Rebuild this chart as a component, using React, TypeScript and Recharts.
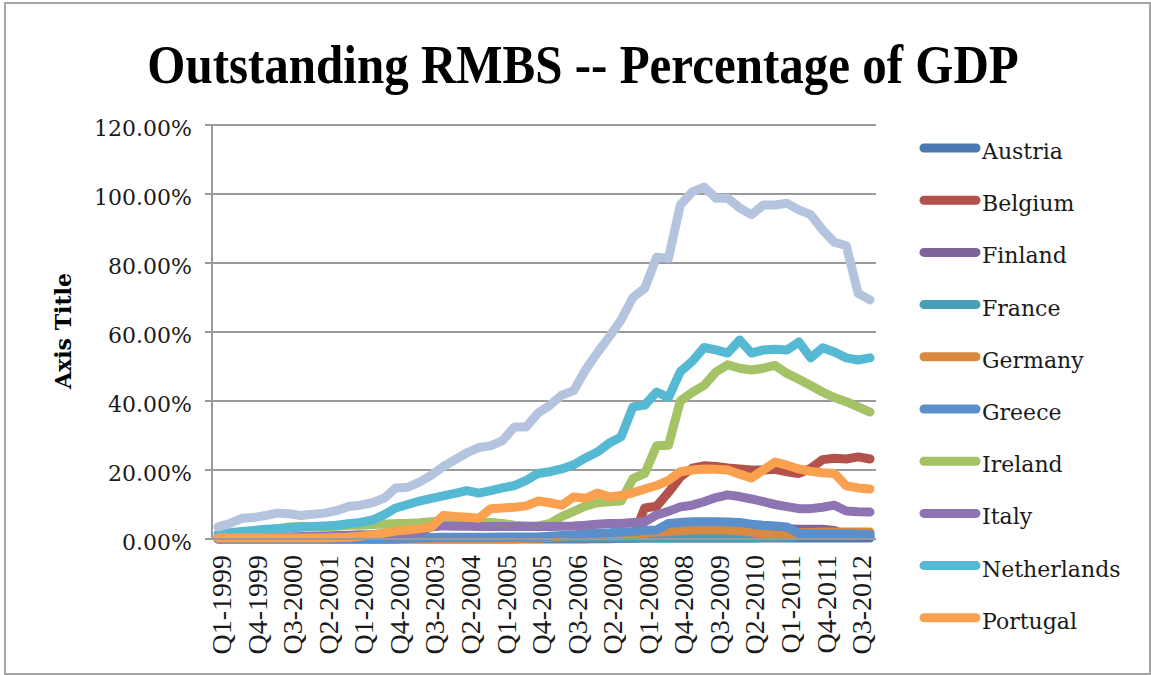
import { CartesianGrid, Line, LineChart, XAxis, YAxis } from 'recharts';

// quarters Q1-1999 .. Q4-2012
const YEARS = [1999, 2000, 2001, 2002, 2003, 2004, 2005, 2006, 2007, 2008, 2009, 2010, 2011, 2012];
const QUARTERS = ['Q1', 'Q2', 'Q3', 'Q4'];
const CATEGORIES = YEARS.flatMap((y) => QUARTERS.map((q) => `${q}-${y}`));

const Y_TICKS = [0, 20, 40, 60, 80, 100, 120];

// outstanding RMBS, % of GDP
const AUSTRIA = [
  0.1, 0.1, 0.1, 0.1, 0.1, 0.1, 0.1, 0.1,
  0.1, 0.1, 0.1, 0.1, 0.1, 0.1, 0.1, 0.1,
  0.2, 0.2, 0.2, 0.2, 0.2, 0.2, 0.2, 0.2,
  0.2, 0.2, 0.2, 0.2, 0.2, 0.2, 0.2, 0.2,
  0.3, 0.3, 0.3, 0.3, 0.3, 0.3, 0.3, 0.3,
  0.3, 0.3, 0.3, 0.3, 0.3, 0.3, 0.3, 0.3,
  0.3, 0.3, 0.3, 0.3, 0.3, 0.3, 0.3, 0.3,
];
const BELGIUM = [
  0.1, 0.1, 0.1, 0.1, 0.1, 0.1, 0.1, 0.1,
  0.1, 0.1, 0.1, 0.1, 0.1, 0.1, 0.1, 0.1,
  0.1, 0.1, 0.1, 0.1, 0.1, 0.1, 0.1, 0.1,
  0.1, 0.1, 0.1, 0.1, 0.1, 0.1, 0.1, 0.1,
  0.1, 0.1, 0.2, 0.3, 9.0, 9.5, 13.5, 18.0,
  20.5, 21.2, 21.0, 20.6, 20.3, 20.0, 20.0, 20.2,
  19.5, 19.0, 20.5, 23.0, 23.4, 23.2, 23.8, 23.2,
];
const FINLAND = [
  0.1, 0.1, 0.1, 0.1, 0.1, 0.1, 0.1, 0.1,
  0.1, 0.1, 0.1, 0.1, 0.1, 0.1, 0.1, 0.1,
  0.1, 0.1, 0.1, 0.1, 0.1, 0.1, 0.1, 0.1,
  0.1, 0.1, 0.1, 0.1, 0.1, 0.1, 0.1, 0.1,
  0.2, 0.2, 0.3, 0.3, 0.5, 2.0, 3.0, 3.3,
  3.5, 3.5, 3.5, 3.5, 3.3, 3.2, 3.0, 3.0,
  3.0, 2.8, 2.8, 2.8, 2.5, 1.0, 0.8, 0.8,
];
const FRANCE = [
  0.2, 0.2, 0.2, 0.2, 0.2, 0.2, 0.2, 0.2,
  0.2, 0.2, 0.2, 0.2, 0.2, 0.2, 0.2, 0.2,
  0.2, 0.2, 0.2, 0.2, 0.2, 0.2, 0.2, 0.2,
  0.3, 0.3, 0.3, 0.3, 0.3, 0.3, 0.3, 0.3,
  0.3, 0.3, 0.3, 0.3, 0.3, 0.3, 0.3, 0.3,
  0.3, 0.3, 0.3, 0.3, 0.3, 0.3, 0.4, 0.4,
  0.5, 1.0, 1.2, 1.3, 1.4, 1.5, 1.6, 1.8,
];
const GERMANY = [
  0, 0, 0, 0, 0, 0, 0, 0,
  0, 0, 0, 0, 0, 0, 0, 0,
  0, 0, 0, 0, 0, 0, 0, 0,
  0, 0, 0.2, 0.3, 0.5, 0.8, 1.0, 1.2,
  1.2, 1.3, 1.4, 1.5, 1.7, 2.0, 2.2, 2.4,
  2.6, 2.7, 2.7, 2.6, 2.3, 2.0, 1.5, 1.2,
  1.0, 1.8, 1.9, 2.0, 2.0, 2.0, 2.0, 2.0,
];
const GREECE = [
  0, 0, 0, 0, 0, 0, 0, 0,
  0, 0, 0, 0, 0, 0, 0, 0,
  0.2, 0.3, 0.4, 0.5, 0.5, 0.5, 0.5, 0.5,
  0.6, 0.6, 0.6, 0.6, 0.8, 1.0, 1.2, 1.5,
  1.7, 1.8, 2.0, 2.2, 2.5, 2.6, 4.5, 4.8,
  5.0, 5.0, 5.0, 4.9, 4.8, 4.3, 4.0, 3.8,
  3.5, 1.6, 1.5, 1.5, 1.5, 1.5, 1.4, 1.3,
];
const IRELAND = [
  0.5, 1.0, 1.5, 2.0, 2.5, 3.0, 3.5, 3.7,
  3.5, 3.5, 3.7, 4.0, 4.0, 4.2, 4.3, 4.5,
  4.5, 4.7, 5.0, 5.0, 5.0, 4.8, 4.8, 4.8,
  4.5, 4.0, 3.8, 3.8, 4.5, 6.5, 8.0, 9.5,
  10.5, 10.8, 11.0, 17.5, 19.0, 27.0, 27.2, 40.0,
  42.5, 44.5, 48.4, 50.5, 49.5, 49.0, 49.5, 50.3,
  48.0, 46.3, 44.5, 42.6, 41.0, 39.8, 38.3, 36.8,
];
const ITALY = [
  0.2, 0.2, 0.3, 0.3, 0.4, 0.5, 0.6, 0.7,
  0.8, 0.9, 1.0, 1.1, 1.2, 1.3, 1.5, 1.6,
  1.8, 2.0, 3.5, 3.8, 3.7, 3.7, 3.6, 3.6,
  3.6, 3.6, 3.6, 3.6, 3.6, 3.7, 3.8, 4.0,
  4.3, 4.5, 4.5, 4.8, 5.0, 7.0, 8.0, 9.3,
  9.8, 10.8, 12.0, 12.8, 12.3, 11.6, 10.8, 10.0,
  9.4, 8.8, 8.8, 9.2, 9.8, 8.1, 7.9, 7.8,
];
const NETHERLANDS = [
  1.5, 1.8, 2.2, 2.5, 2.8, 3.0, 3.2, 3.4,
  3.6, 3.8, 4.0, 4.4, 4.8, 5.5, 7.0, 9.0,
  10.0, 11.0, 11.8, 12.5, 13.2, 14.0, 13.3, 14.0,
  14.8, 15.5, 17.0, 19.0, 19.5, 20.3, 21.5, 23.5,
  25.2, 27.8, 29.6, 38.3, 38.8, 42.6, 41.0, 48.5,
  51.5, 55.5, 54.8, 53.9, 57.7, 53.9, 54.8, 55.0,
  54.8, 57.1, 52.5, 55.4, 54.2, 52.5, 51.9, 52.5,
];
const PORTUGAL = [
  0.3, 0.3, 0.3, 0.3, 0.3, 0.3, 0.3, 0.3,
  0.3, 0.3, 0.4, 0.5, 0.8, 1.2, 1.7, 2.3,
  2.6, 3.0, 3.5, 6.8, 6.5, 6.3, 6.0, 8.8,
  9.0, 9.2, 9.6, 11.0, 10.5, 9.8, 12.2, 11.8,
  13.3, 12.2, 12.6, 13.4, 14.5, 15.5, 17.0, 19.5,
  20.0, 20.3, 20.2, 20.0, 18.8, 17.7, 20.0, 22.3,
  21.4, 20.3, 19.6, 19.2, 19.0, 15.4, 14.8, 14.5,
];
// 11th series, cut off from the legend in the original
const SPAIN = [
  3.5, 4.5, 6.0, 6.2, 6.8, 7.5, 7.3, 6.8,
  7.2, 7.5, 8.2, 9.4, 9.8, 10.5, 11.8, 14.8,
  15.0, 16.5, 18.5, 21.0, 23.0, 25.0, 26.5, 27.0,
  28.5, 32.5, 32.5, 36.5, 38.8, 41.7, 43.0, 49.0,
  54.0, 58.6, 63.5, 70.0, 72.7, 81.7, 81.4, 96.8,
  100.6, 102.0, 98.8, 98.8, 96.0, 94.0, 96.8, 96.8,
  97.3, 95.4, 94.0, 89.6, 86.0, 85.0, 71.2, 69.3,
];

const SERIES = [
  { name: 'Austria', values: AUSTRIA, color: '#4A7AB0', legend: true },
  { name: 'Belgium', values: BELGIUM, color: '#B3514C', legend: true },
  { name: 'Finland', values: FINLAND, color: '#7E629A', legend: true },
  { name: 'France', values: FRANCE, color: '#46A0B5', legend: true },
  { name: 'Germany', values: GERMANY, color: '#DA8A40', legend: true },
  { name: 'Greece', values: GREECE, color: '#5A8FCB', legend: true },
  { name: 'Ireland', values: IRELAND, color: '#A4C266', legend: true },
  { name: 'Italy', values: ITALY, color: '#8E74B2', legend: true },
  { name: 'Netherlands', values: NETHERLANDS, color: '#55B9D3', legend: true },
  { name: 'Portugal', values: PORTUGAL, color: '#F9A14E', legend: true },
  { name: 'Spain', values: SPAIN, color: '#B4C4DE', legend: false },
];

const data = CATEGORIES.map((quarter, i) => {
  const row: Record<string, string | number> = { quarter };
  SERIES.forEach((s) => {
    row[s.name] = s.values[i];
  });
  return row;
});

const GRID = '#9a9a9a';
const SERIF = '"DejaVu Serif", serif';

function QuarterTick({ x, y, payload }: any) {
  const ay = y + 8;
  return (
    <text
      x={x}
      y={ay}
      dy={13}
      transform={`rotate(-90, ${x}, ${ay})`}
      textAnchor="end"
      fontFamily='"Liberation Serif", serif'
      fontSize={28}
      fill="#1a1a1a"
    >
      {payload.value}
    </text>
  );
}

export default function App() {
  const legendItems = SERIES.filter((s) => s.legend);
  return (
    <div style={{ position: 'absolute', left: 0, top: 0, width: 1151, height: 675, background: '#fff' }}>
      <div
        style={{
          position: 'absolute',
          left: 4,
          top: 2,
          width: 1143,
          height: 669,
          border: '2px solid #a6a6a6',
        }}
      />
      <LineChart
        width={1151}
        height={675}
        data={data}
        margin={{ top: 125, right: 275, bottom: 0, left: 0 }}
        style={{ position: 'absolute', left: 0, top: 0 }}
      >
        <CartesianGrid vertical={false} stroke={GRID} strokeWidth={2} />
        <XAxis
          dataKey="quarter"
          height={136}
          interval={2}
          padding={{ left: 6, right: 6 }}
          axisLine={{ stroke: GRID, strokeWidth: 2 }}
          tickLine={false}
          tick={<QuarterTick />}
        />
        <YAxis
          width={212}
          domain={[0, 120]}
          ticks={Y_TICKS}
          interval={0}
          tickFormatter={(v: number) => `${v.toFixed(2)}%`}
          axisLine={{ stroke: GRID, strokeWidth: 2 }}
          tickLine={{ stroke: GRID, strokeWidth: 2 }}
          tickSize={7}
          tickMargin={13}
          tick={{ fontFamily: SERIF, fontSize: 22, fill: '#1a1a1a', dy: 3 }}
        />
        {SERIES.map((s) => (
          <Line
            key={s.name}
            type="linear"
            dataKey={s.name}
            stroke={s.color}
            strokeWidth={9}
            strokeLinejoin="round"
            strokeLinecap="round"
            dot={false}
            activeDot={false}
            isAnimationActive={false}
          />
        ))}
      </LineChart>
      <svg
        width={1151}
        height={675}
        style={{ position: 'absolute', left: 0, top: 0, pointerEvents: 'none' }}
      >
        <text
          transform="translate(583, 83) scale(1, 1.12)"
          textAnchor="middle"
          fontFamily='"Liberation Serif", serif'
          fontWeight="bold"
          fontSize={49}
          fill="#000"
        >
          Outstanding RMBS -- Percentage of GDP
        </text>
        <text
          transform="translate(71, 331) rotate(-90)"
          textAnchor="middle"
          fontFamily={SERIF}
          fontWeight="bold"
          fontSize={22}
          fill="#000"
        >
          Axis Title
        </text>
        {legendItems.map((s, k) => {
          const cy = 148 + k * 52.2;
          return (
            <g key={s.name}>
              <line x1={924} x2={976} y1={cy} y2={cy} stroke={s.color} strokeWidth={9} strokeLinecap="round" />
              <text x={982} y={cy + 11} fontFamily={SERIF} fontSize={22} fill="#1a1a1a">
                {s.name}
              </text>
            </g>
          );
        })}
      </svg>
    </div>
  );
}
